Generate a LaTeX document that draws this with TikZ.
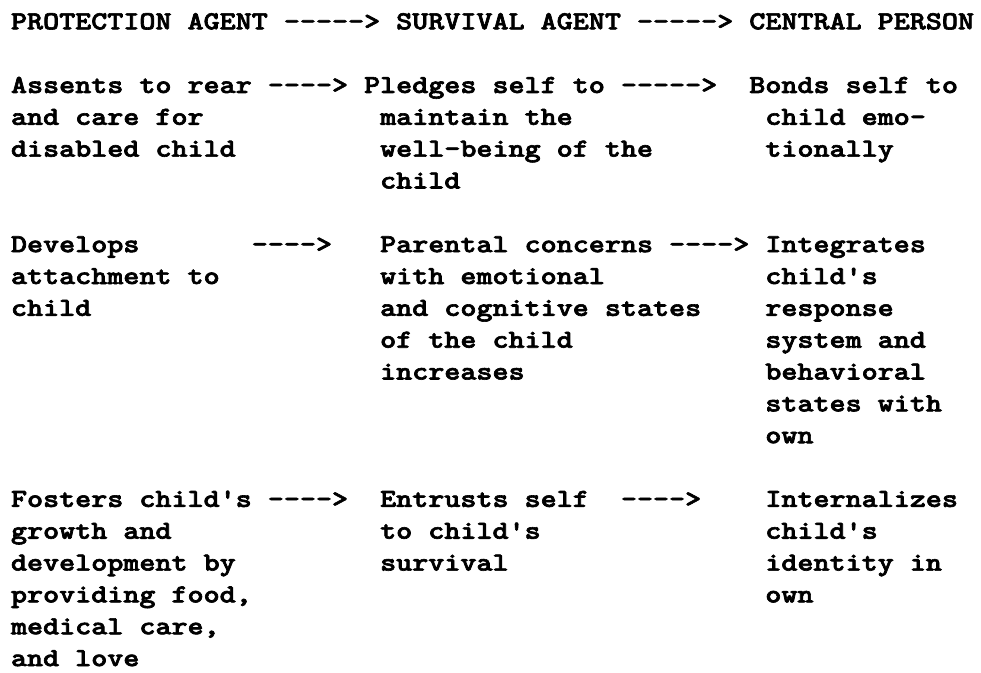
\documentclass[tikz,border=0pt]{standalone}
\usepackage{fontspec}
\usepackage{graphicx}
\newcommand\colx[1]{11+16.05*#1}
\newcommand\rowy[1]{-29.3-31.84*#1}
\newcommand\tw[1]{\special{pdf:literal direct 2 Tr 0.6 w}\scalebox{1.176}[1]{#1}\special{pdf:literal direct 0 Tr}}
\tikzset{
  tw/.style={inner sep=0pt, outer sep=0pt, anchor=base west,
    font=\ttfamily\bfseries\fontsize{26pt}{31.84pt}\selectfont},
  twarrow/.style={tw}
}
\begin{document}
\begin{tikzpicture}[x=1pt,y=1pt]
\fill[white] (0,0) rectangle (981,-672);
\useasboundingbox (0,0) rectangle (981,-672);
% header
\node[tw] (h1) at (\colx{0},\rowy{0}) {\tw{PROTECTION AGENT}};
\node[twarrow] (ha1) at (\colx{17},\rowy{0}) {\tw{----->}};
\node[tw] (h2) at (\colx{24},\rowy{0}) {\tw{SURVIVAL AGENT}};
\node[twarrow] (ha2) at (\colx{39},\rowy{0}) {\tw{----->}};
\node[tw] (h3) at (\colx{46},\rowy{0}) {\tw{CENTRAL PERSON}};
% group 1
\node[tw] (a1) at (\colx{0},\rowy{2}) {\tw{Assents to rear}};
\node[tw] (a2) at (\colx{0},\rowy{3}) {\tw{and care for}};
\node[tw] (a3) at (\colx{0},\rowy{4}) {\tw{disabled child}};
\node[twarrow] (aa1) at (\colx{16},\rowy{2}) {\tw{---->}};
\node[tw] (b1) at (\colx{22},\rowy{2}) {\tw{Pledges self to}};
\node[tw] (b2) at (\colx{23},\rowy{3}) {\tw{maintain the}};
\node[tw] (b3) at (\colx{23},\rowy{4}) {\tw{well-being of the}};
\node[tw] (b4) at (\colx{23},\rowy{5}) {\tw{child}};
\node[twarrow] (ba1) at (\colx{38},\rowy{2}) {\tw{----->}};
\node[tw] (c1) at (\colx{46},\rowy{2}) {\tw{Bonds self to}};
\node[tw] (c2) at (\colx{47},\rowy{3}) {\tw{child emo-}};
\node[tw] (c3) at (\colx{47},\rowy{4}) {\tw{tionally}};
% group 2
\node[tw] (d1) at (\colx{0},\rowy{7}) {\tw{Develops}};
\node[tw] (d2) at (\colx{0},\rowy{8}) {\tw{attachment to}};
\node[tw] (d3) at (\colx{0},\rowy{9}) {\tw{child}};
\node[twarrow] (da1) at (\colx{15},\rowy{7}) {\tw{---->}};
\node[tw] (e1) at (\colx{23},\rowy{7}) {\tw{Parental concerns}};
\node[tw] (e2) at (\colx{23},\rowy{8}) {\tw{with emotional}};
\node[tw] (e3) at (\colx{23},\rowy{9}) {\tw{and cognitive states}};
\node[tw] (e4) at (\colx{23},\rowy{10}) {\tw{of the child}};
\node[tw] (e5) at (\colx{23},\rowy{11}) {\tw{increases}};
\node[twarrow] (ea1) at (\colx{41},\rowy{7}) {\tw{---->}};
\node[tw] (f1) at (\colx{47},\rowy{7}) {\tw{Integrates}};
\node[tw] (f2) at (\colx{47},\rowy{8}) {\tw{child's}};
\node[tw] (f3) at (\colx{47},\rowy{9}) {\tw{response}};
\node[tw] (f4) at (\colx{47},\rowy{10}) {\tw{system and}};
\node[tw] (f5) at (\colx{47},\rowy{11}) {\tw{behavioral}};
\node[tw] (f6) at (\colx{47},\rowy{12}) {\tw{states with}};
\node[tw] (f7) at (\colx{47},\rowy{13}) {\tw{own}};
% group 3
\node[tw] (g1) at (\colx{0},\rowy{15}) {\tw{Fosters child's}};
\node[tw] (g2) at (\colx{0},\rowy{16}) {\tw{growth and}};
\node[tw] (g3) at (\colx{0},\rowy{17}) {\tw{development by}};
\node[tw] (g4) at (\colx{0},\rowy{18}) {\tw{providing food,}};
\node[tw] (g5) at (\colx{0},\rowy{19}) {\tw{medical care,}};
\node[tw] (g6) at (\colx{0},\rowy{20}) {\tw{and love}};
\node[twarrow] (ga1) at (\colx{16},\rowy{15}) {\tw{---->}};
\node[tw] (k1) at (\colx{23},\rowy{15}) {\tw{Entrusts self}};
\node[tw] (k2) at (\colx{23},\rowy{16}) {\tw{to child's}};
\node[tw] (k3) at (\colx{23},\rowy{17}) {\tw{survival}};
\node[twarrow] (ka1) at (\colx{38},\rowy{15}) {\tw{---->}};
\node[tw] (m1) at (\colx{47},\rowy{15}) {\tw{Internalizes}};
\node[tw] (m2) at (\colx{47},\rowy{16}) {\tw{child's}};
\node[tw] (m3) at (\colx{47},\rowy{17}) {\tw{identity in}};
\node[tw] (m4) at (\colx{47},\rowy{18}) {\tw{own}};
\end{tikzpicture}
\end{document}
